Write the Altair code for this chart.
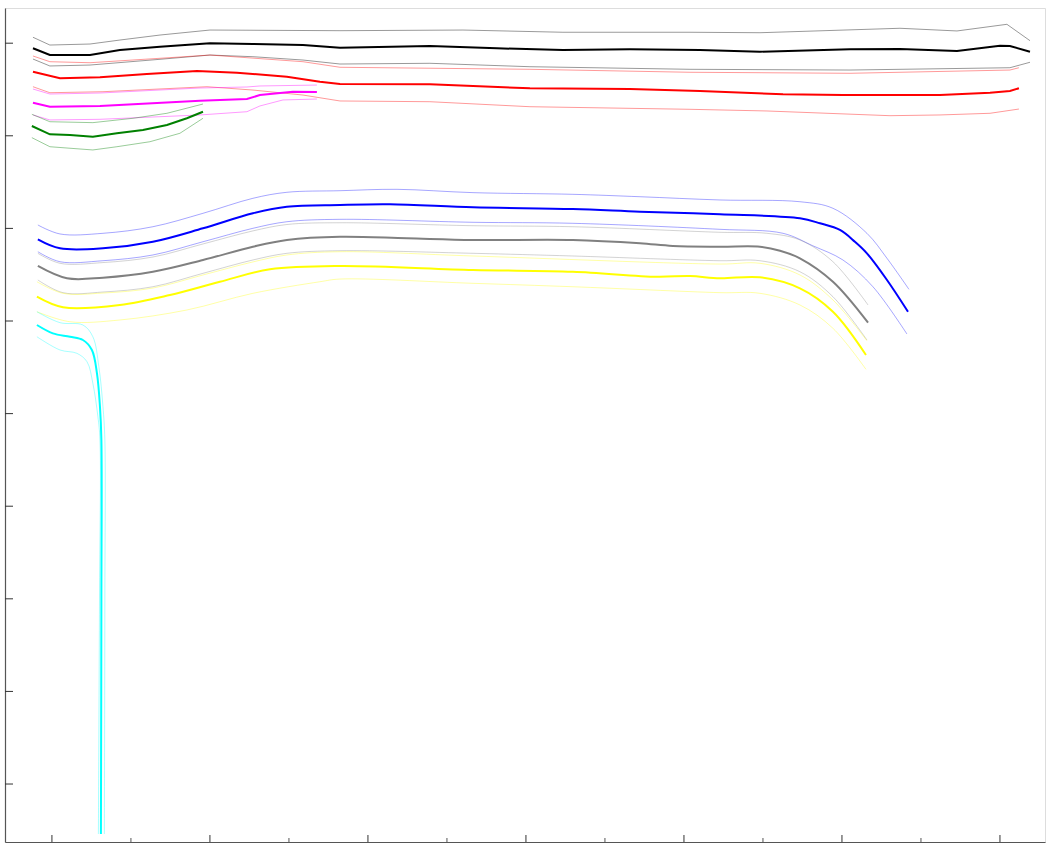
import altair as alt
import pandas as pd

# ---- data (x: major ticks every 100, y: ticks every 100 from bottom) ----
black_x = [-12.0, -1.3, 24.1, 43.0, 68.4, 100, 127.2, 158.9, 182.3, 239.2, 281.6, 323.4, 365.8, 410.1, 448.1, 505.1, 536.7, 572.8, 600, 606.3, 619.0]
black_y = [794.5, 787.2, 787.2, 792.6, 796.2, 799.9, 799.1, 798.0, 795.1, 797.0, 794.5, 792.6, 793.4, 792.6, 790.8, 793.4, 793.7, 791.6, 797.3, 797.0, 790.8]
black_hi_x = [-12.0, -1.3, 24.1, 43.0, 68.4, 100, 182.3, 260.1, 323.4, 403.8, 448.1, 536.7, 572.8, 604.4, 619.0]
black_hi_y = [806.4, 798.0, 799.1, 803.4, 808.8, 814.2, 813.5, 814.2, 811.8, 811.8, 811.3, 816.1, 813.2, 820.4, 802.7]
black_lo_x = [-12.0, -1.3, 24.1, 68.4, 100, 127.2, 158.9, 182.3, 239.2, 302.5, 403.8, 505.1, 606.3, 619.0]
black_lo_y = [782.9, 775.4, 776.4, 782.6, 787.2, 785.4, 781.8, 777.5, 778.3, 774.6, 771.8, 771.0, 773.5, 779.4]

red_x = [-12.0, 5.1, 30.4, 60.1, 91.8, 117.1, 148.7, 169.6, 182.3, 239.2, 302.5, 365.8, 410.1, 462.7, 500.6, 530.4, 562.0, 593.7, 606.3, 612.0]
red_y = [769.2, 762.1, 763.2, 766.7, 770.0, 768.1, 763.8, 758.4, 755.9, 755.6, 751.3, 750.5, 748.4, 744.8, 744.0, 744.0, 744.0, 746.5, 748.4, 751.3]
red_hi_x = [-12.0, -1.3, 24.1, 68.4, 100, 158.9, 182.3, 302.5, 403.8, 505.1, 606.3, 612.0]
red_hi_y = [786.2, 780.0, 778.9, 783.7, 787.2, 780.0, 774.0, 771.8, 768.6, 767.5, 771.0, 773.5]
red_lo_x = [-12.0, -1.3, 32.3, 98.1, 127.2, 158.9, 182.3, 239.2, 302.5, 403.8, 452.5, 530.4, 562.0, 593.7, 612.0]
red_lo_y = [753.0, 746.5, 747.6, 753.0, 749.4, 744.0, 737.6, 736.8, 731.4, 728.6, 726.8, 721.7, 722.5, 724.3, 728.9]

magenta_x = [-12.0, -1.3, 30.4, 93.7, 123.4, 131.6, 152.5, 167.7]
magenta_y = [735.7, 731.4, 732.2, 737.9, 739.7, 744.0, 747.6, 747.3]
magenta_hi_x = [-12.0, -1.3, 30.4, 93.7, 123.4, 131.6, 167.7]
magenta_hi_y = [750.5, 745.1, 746.2, 751.6, 752.7, 753.8, 754.8]
magenta_lo_x = [-12.0, -1.3, 30.4, 93.7, 123.4, 131.6, 146.2, 167.7]
magenta_lo_y = [722.5, 717.1, 717.8, 722.5, 726.0, 732.2, 738.7, 739.7]

green_x = [-12.7, -1.3, 11.4, 25.9, 41.1, 57.6, 72.8, 85.4, 95.6]
green_y = [710.6, 701.6, 700.9, 699.0, 702.7, 706.3, 711.7, 718.9, 726.0]
green_hi_x = [-12.7, -1.3, 25.9, 51.3, 72.8, 95.6]
green_hi_y = [723.2, 715.2, 714.2, 718.9, 724.3, 734.3]
green_lo_x = [-12.7, -1.3, 25.9, 41.1, 62.0, 81.0, 95.6]
green_lo_y = [698.0, 688.2, 684.7, 688.2, 693.6, 702.7, 718.9]

blue_x = [-8.9, 5.1, 32.3, 63.9, 95.6, 127.2, 148.7, 182.3, 213.9, 266.5, 329.7, 372.2, 422.8, 473.4, 486.1, 498.7, 508.2, 515.8, 528.5, 541.8]
blue_y = [588.2, 578.5, 578.5, 585.6, 600.1, 616.3, 623.4, 625.3, 626.0, 622.8, 620.9, 618.0, 615.2, 610.9, 605.5, 598.3, 585.6, 573.1, 544.3, 510.0]
blue_hi_x = [-8.9, 5.1, 32.3, 63.9, 95.6, 127.2, 148.7, 182.3, 218.4, 266.5, 329.7, 372.2, 422.8, 473.4, 494.3, 515.8, 528.5, 542.4]
blue_hi_y = [603.7, 594.0, 594.7, 601.8, 616.3, 632.5, 639.0, 640.7, 642.2, 638.6, 636.8, 634.2, 630.7, 628.8, 621.7, 594.7, 567.7, 534.2]
blue_lo_x = [-8.9, 5.1, 32.3, 63.9, 95.6, 127.2, 148.7, 182.3, 266.5, 329.7, 422.8, 462.7, 481.6, 500.6, 519.6, 541.1]
blue_lo_y = [574.8, 564.0, 565.1, 571.3, 585.6, 600.1, 607.2, 609.8, 606.6, 605.5, 599.0, 594.7, 581.2, 565.9, 537.0, 486.0]

gray_x = [-8.9, 9.5, 32.3, 63.9, 95.6, 127.2, 148.7, 182.3, 224.7, 266.5, 329.7, 372.2, 393.0, 422.8, 448.1, 460.8, 473.4, 494.3, 516.5]
gray_y = [559.4, 546.1, 546.8, 553.2, 565.9, 580.2, 587.5, 591.0, 589.3, 587.5, 587.5, 583.9, 581.0, 580.2, 580.2, 575.9, 567.7, 542.4, 498.2]
gray_hi_x = [-8.9, 5.1, 32.3, 63.9, 95.6, 127.2, 148.7, 182.3, 266.5, 329.7, 422.8, 452.5, 473.4, 494.3, 516.5]
gray_hi_y = [573.1, 562.3, 563.1, 569.1, 583.2, 597.3, 604.2, 606.1, 602.9, 601.8, 595.8, 594.7, 587.5, 564.0, 517.3]
gray_lo_x = [-8.9, 7.0, 32.3, 63.9, 95.6, 127.2, 148.7, 182.3, 266.5, 329.7, 422.8, 448.1, 473.4, 494.3, 515.8]
gray_lo_y = [544.3, 530.6, 531.3, 537.0, 551.5, 565.9, 573.1, 575.9, 573.1, 570.2, 565.1, 565.1, 553.2, 526.2, 479.5]

yellow_x = [-9.5, 7.0, 43.0, 74.7, 106.3, 138.0, 182.3, 266.5, 329.7, 382.9, 403.8, 422.8, 448.1, 473.4, 494.3, 515.2]
yellow_y = [526.2, 514.8, 517.3, 528.1, 542.4, 555.8, 559.4, 555.1, 553.2, 547.8, 548.6, 546.1, 547.2, 535.3, 510.0, 463.3]
yellow_hi_x = [-9.5, 7.0, 32.3, 63.9, 95.6, 127.2, 148.7, 182.3, 266.5, 422.8, 448.1, 473.4, 494.3, 515.8]
yellow_hi_y = [542.4, 529.9, 530.2, 535.6, 549.7, 563.8, 571.3, 574.8, 570.2, 561.5, 562.3, 549.7, 522.7, 478.7]
yellow_lo_x = [-9.5, 11.4, 43.0, 85.4, 127.2, 169.6, 182.3, 266.5, 329.7, 422.8, 448.1, 473.4, 494.3, 515.2]
yellow_lo_y = [510.0, 499.2, 501.1, 511.9, 529.9, 542.4, 545.3, 540.7, 537.0, 530.6, 529.9, 517.3, 492.1, 447.8]

cyan_x = [-9.5, 0.6, 11.4, 19.6, 25.3, 28.5, 30.4, 31.3, 31.3, 31.0]
cyan_y = [495.7, 486.7, 483.0, 479.5, 468.7, 443.5, 407.5, 371.5, 198.7, -54.0]
cyan_hi_x = [-9.5, 5.1, 19.6, 25.9, 29.7, 32.3, 33.5, 33.5, 33.2]
cyan_hi_y = [510.0, 498.2, 495.7, 483.0, 450.7, 407.5, 371.5, 198.7, -54.0]
cyan_lo_x = [-9.5, 5.1, 15.8, 22.2, 25.9, 29.1, 30.4, 30.1, 29.4]
cyan_lo_y = [483.0, 468.7, 465.1, 456.0, 432.7, 396.6, 371.5, 198.7, -54.0]

y_ticks = [0, 100, 200, 300, 400, 500, 600, 700, 800]
x_major = [0, 100, 200, 300, 400, 500, 600]
x_minor = [50, 150, 250, 350, 450, 550]

series = [
    ("black", "#000000", "jag", black_x, black_y, black_hi_x, black_hi_y, black_lo_x, black_lo_y),
    ("red", "#ff0000", "jag", red_x, red_y, red_hi_x, red_hi_y, red_lo_x, red_lo_y),
    ("magenta", "#ff00ff", "jag", magenta_x, magenta_y, magenta_hi_x, magenta_hi_y, magenta_lo_x, magenta_lo_y),
    ("green", "#008000", "jag", green_x, green_y, green_hi_x, green_hi_y, green_lo_x, green_lo_y),
    ("blue", "#0000ff", "smooth", blue_x, blue_y, blue_hi_x, blue_hi_y, blue_lo_x, blue_lo_y),
    ("gray", "#808080", "smooth", gray_x, gray_y, gray_hi_x, gray_hi_y, gray_lo_x, gray_lo_y),
    ("yellow", "#ffff00", "smooth", yellow_x, yellow_y, yellow_hi_x, yellow_hi_y, yellow_lo_x, yellow_lo_y),
    ("cyan", "#00ffff", "smooth", cyan_x, cyan_y, cyan_hi_x, cyan_hi_y, cyan_lo_x, cyan_lo_y),
]

rows = []
for name, col, grp, mx, my, hx, hy, lx, ly in series:
    for role, xs, ys in (("main", mx, my), ("hi", hx, hy), ("lo", lx, ly)):
        for i, (a, b) in enumerate(zip(xs, ys)):
            rows.append({"x": a, "y": b, "series": name, "role": role,
                         "grp": grp, "line": f"{name}_{role}", "idx": i})
df = pd.DataFrame(rows)

names = [s[0] for s in series]
colors = [s[1] for s in series]

W, H = 1040, 834
xs = alt.Scale(domain=[-29.7, 628.5], nice=False, zero=False)
ys = alt.Scale(domain=[-62.6, 838.0], nice=False, zero=False)
xax = alt.Axis(ticks=False, labels=False, grid=False, title=None, domainColor="#555555", domainWidth=1.2)
yax = alt.Axis(ticks=False, labels=False, grid=False, title=None, domainColor="#555555", domainWidth=1.2)
col_enc = alt.Color("series:N", scale=alt.Scale(domain=names, range=colors), legend=None)

base = alt.Chart(df).encode(
    x=alt.X("x:Q", scale=xs, axis=xax),
    y=alt.Y("y:Q", scale=ys, axis=yax),
    color=col_enc,
    detail="line:N",
    order="idx:Q",
)

bands_jag = base.transform_filter("datum.role != 'main' && datum.grp == 'jag'").mark_line(strokeWidth=1, opacity=0.4, interpolate="linear")
bands_smooth = base.transform_filter("datum.role != 'main' && datum.grp == 'smooth'").mark_line(strokeWidth=1, opacity=0.35, interpolate="catmull-rom")
main_jag = base.transform_filter("datum.role == 'main' && datum.grp == 'jag'").mark_line(strokeWidth=2, interpolate="linear")
main_smooth = base.transform_filter("datum.role == 'main' && datum.grp == 'smooth'").mark_line(strokeWidth=2, interpolate="catmull-rom")

ytick_df = pd.DataFrame({"y": y_ticks})
xmaj_df = pd.DataFrame({"x": x_major})
xmin_df = pd.DataFrame({"x": x_minor})

yt = alt.Chart(ytick_df).mark_rule(color="#333333", strokeWidth=1).encode(
    y=alt.Y("y:Q", scale=ys, axis=yax), x=alt.value(0), x2=alt.value(8))
xt1 = alt.Chart(xmaj_df).mark_rule(color="#333333", strokeWidth=1).encode(
    x=alt.X("x:Q", scale=xs, axis=xax), y=alt.value(H), y2=alt.value(H - 7))
xt2 = alt.Chart(xmin_df).mark_rule(color="#555555", strokeWidth=1).encode(
    x=alt.X("x:Q", scale=xs, axis=xax), y=alt.value(H), y2=alt.value(H - 4))

chart = alt.layer(bands_jag, bands_smooth, main_jag, main_smooth, yt, xt1, xt2).properties(
    width=W, height=H,
    autosize=alt.AutoSizeParams(type="none"),
    padding={"left": 5, "top": 8, "right": 7, "bottom": 6},
).configure_view(stroke="#999999", strokeWidth=1).configure(background="white")

chart.save("out.html", embed_options={"renderer": "svg", "actions": False})
